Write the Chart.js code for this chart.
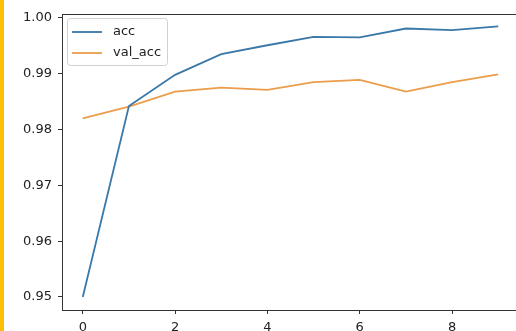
<!DOCTYPE html>
<html>
<head>
<meta charset="utf-8">
<script src="https://cdn.jsdelivr.net/npm/chart.js@4"></script>
<style>
  html, body { margin: 0; padding: 0; background: #fff; }
  #wrap { position: relative; width: 516px; height: 331px; overflow: hidden; }
  #box { position: absolute; left: 0; top: 0; width: 520px; height: 331px; }
  #strip { position: absolute; left: 0; top: 0; width: 4px; height: 331px; background: #f9c005; z-index: 2; }
</style>
</head>
<body>
<div id="wrap">
  <div id="strip"></div>
  <div id="box"><canvas id="accChart"></canvas></div>
</div>
<script>
const epochs = [0, 1, 2, 3, 4, 5, 6, 7, 8, 9];
const acc = [0.9500, 0.9842, 0.9898, 0.9935, 0.9951, 0.9966, 0.9965, 0.9981, 0.9978, 0.9985];
const valAcc = [0.9820, 0.9841, 0.9868, 0.9875, 0.9871, 0.9885, 0.9889, 0.9868, 0.9885, 0.9899];
const xTicks = [0, 2, 4, 6, 8];
const yTicks = [0.95, 0.96, 0.97, 0.98, 0.99, 1.00];

const FONT = { family: "DejaVu Sans", size: 13 };

// matplotlib style box: top spine + legend in upper left
const boxLegend = {
    id: "boxLegend",
    afterDraw(chart) {
        let ctx = chart.ctx;
        let a = chart.chartArea;
        ctx.save();
        ctx.strokeStyle = "#333";
        ctx.lineWidth = 1;
        ctx.beginPath();
        ctx.moveTo(a.left, a.top + 0.5);
        ctx.lineTo(a.right, a.top + 0.5);
        ctx.stroke();

        let x = a.left + 5, y = a.top + 4;
        ctx.fillStyle = "rgba(255,255,255,0.85)";
        ctx.strokeStyle = "#d0d0d0";
        ctx.beginPath();
        ctx.roundRect(x + 0.5, y + 0.5, 100, 47, 3);
        ctx.fill();
        ctx.stroke();

        ctx.font = `${FONT.size}px ${FONT.family}`;
        ctx.textBaseline = "middle";
        chart.data.datasets.forEach((ds, i) => {
            let ly = y + 14 + i * 21;
            ctx.strokeStyle = ds.borderColor;
            ctx.lineWidth = 1.8;
            ctx.beginPath();
            ctx.moveTo(x + 5, ly);
            ctx.lineTo(x + 35, ly);
            ctx.stroke();
            ctx.fillStyle = "#222";
            ctx.fillText(ds.label, x + 46, ly);
        });
        ctx.restore();
    }
};

new Chart(document.getElementById("accChart"), {
    type: "line",
    data: {
        labels: epochs,
        datasets: [
            { label: "acc", data: acc, borderColor: "#3a78a8" },
            { label: "val_acc", data: valAcc, borderColor: "#eb9d4a" }
        ]
    },
    options: {
        responsive: true,
        maintainAspectRatio: false,
        animation: false,
        devicePixelRatio: 1,
        layout: { padding: { top: 14, right: 1, left: 0, bottom: 0 } },
        elements: {
            point: { radius: 0 },
            line: { borderWidth: 1.8, tension: 0 }
        },
        plugins: { legend: { display: false }, tooltip: { enabled: false } },
        scales: {
            x: {
                type: "linear",
                min: -0.45,
                max: 9.45,
                afterBuildTicks: s => { s.ticks = xTicks.map(v => ({ value: v })); },
                afterFit: s => { s.height = 21; },
                grid: { drawOnChartArea: false, tickLength: 4, tickColor: "#333" },
                border: { color: "#333", width: 1 },
                ticks: { font: FONT, color: "#222", padding: 6, maxRotation: 0 }
            },
            y: {
                min: 0.94767,
                max: 1.0007,
                afterBuildTicks: s => { s.ticks = yTicks.map(v => ({ value: v })); },
                afterFit: s => { s.width = 62; },
                grid: { drawOnChartArea: false, tickLength: 4, tickColor: "#333" },
                border: { color: "#333", width: 1 },
                ticks: { font: FONT, color: "#222", padding: 6, callback: v => v.toFixed(2) }
            }
        }
    },
    plugins: [boxLegend]
});
</script>
</body>
</html>
